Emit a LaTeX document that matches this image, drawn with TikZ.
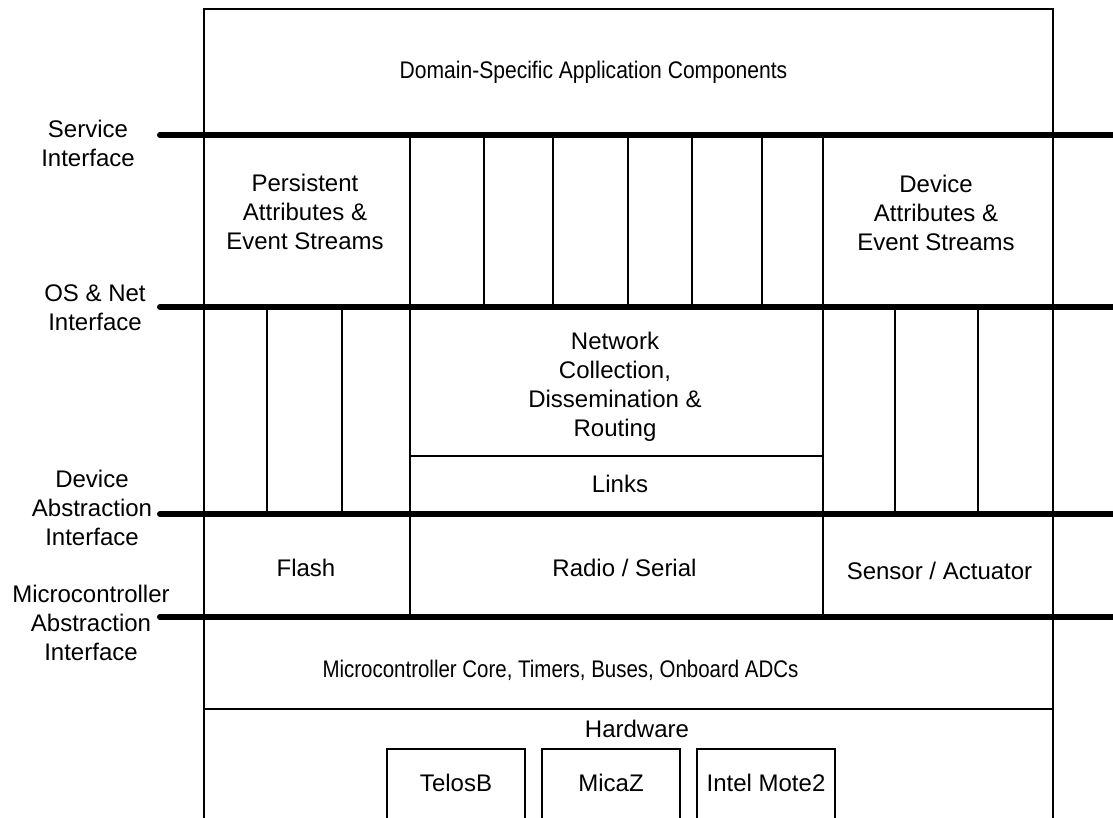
\documentclass[tikz,border=0pt]{standalone}
\usepackage{fontspec}
\usepackage{graphicx}
\setmainfont{Liberation Sans}
\begin{document}
\begin{tikzpicture}[x=1pt,y=-1pt,
  thinln/.style={line width=1.3pt},
  iface/.style={line width=6pt, line cap=round},
  lbl/.style={font=\fontsize{24}{29}\selectfont, align=center, inner sep=0pt},
]
\useasboundingbox (0,0) rectangle (1113,818);
\clip (0,0) rectangle (1113,818);

% outer frame
\draw[thinln] (204,840) -- (204,9) -- (1053,9) -- (1053,840);

% vertical separators, upper service layer
\foreach \xx in {410,484,553,628,692,762,823}
  \draw[thinln] (\xx,135) -- (\xx,307);
% vertical separators, OS layer
\foreach \xx in {267,342,410,823,895,978}
  \draw[thinln] (\xx,307) -- (\xx,514);
% vertical separators, device layer
\foreach \xx in {410,823}
  \draw[thinln] (\xx,514) -- (\xx,617);

% thin horizontals
\draw[thinln] (410,456) -- (823,456);
\draw[thinln] (204,709) -- (1053,709);

% hardware boxes
\draw[thinln] (387,749) rectangle (525,840);
\draw[thinln] (542,749) rectangle (680,840);
\draw[thinln] (697,749) rectangle (835,840);

% interface lines
\draw[iface] (160,135) -- (1125,135);
\draw[iface] (160,307) -- (1125,307);
\draw[iface] (160,514) -- (1125,514);
\draw[iface] (160,617) -- (1125,617);

% interface labels
\node[lbl] (svc) at (88,143) {Service\\Interface};
\node[lbl] (osn) at (95,307.5) {OS \& Net\\Interface};
\node[lbl] (dai) at (92,508) {Device\\Abstraction\\Interface};
\node[lbl] (mai) at (91,623) {Microcontroller\\Abstraction\\Interface};

% box labels
\node[lbl] (dom) at (593.5,72) {\scalebox{0.878}[1]{Domain-Specific Application Components}};
\node[lbl] (pers) at (305,212) {Persistent\\Attributes \&\\Event Streams};
\node[lbl] (devattr) at (936,213) {Device\\Attributes \&\\Event Streams};
\node[lbl] (net) at (615,386.5) {Network\\Collection,\\Dissemination \&\\Routing};
\node[lbl] (links) at (620,484) {Links};
\node[lbl] (flash) at (306,568) {Flash};
\node[lbl] (radio) at (624.5,568) {Radio / Serial};
\node[lbl] (sens) at (939.5,571) {Sensor / Actuator};
\node[lbl] (mcu) at (560.5,670) {\scalebox{0.853}[1]{Microcontroller Core, Timers, Buses, Onboard ADCs}};
\node[lbl] (hw) at (637,729) {Hardware};
\node[lbl] (telos) at (456,783) {TelosB};
\node[lbl] (micaz) at (611,783) {MicaZ};
\node[lbl] (imote) at (766,783) {Intel Mote2};
\end{tikzpicture}
\end{document}
